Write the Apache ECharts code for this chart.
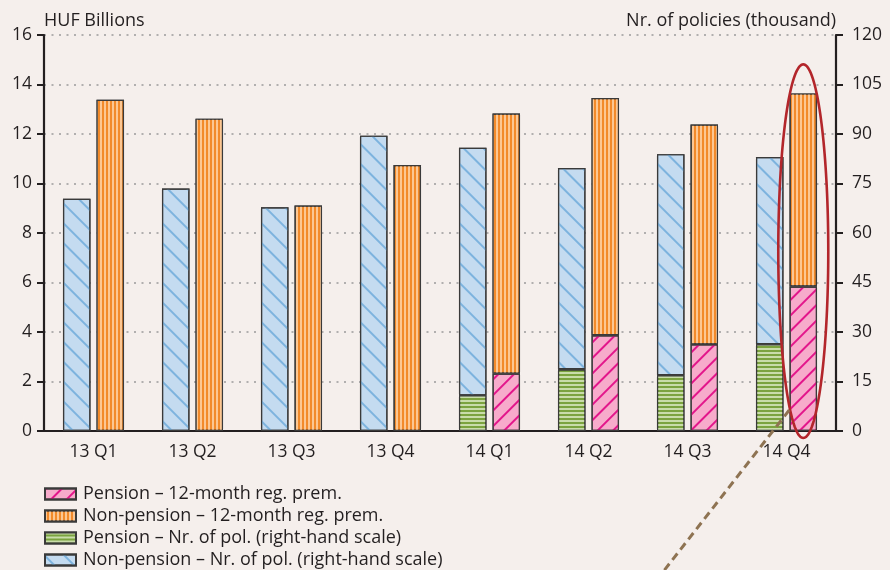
<!DOCTYPE html>
<html><head><meta charset="utf-8">
<script src="https://cdn.jsdelivr.net/npm/echarts@6/dist/echarts.min.js"></script>
<style>html,body{margin:0;padding:0;background:#F5EFEC}#c{width:890px;height:570px}</style>
</head><body><div id="c"></div>
<script>
const categories = ['13 Q1','13 Q2','13 Q3','13 Q4','14 Q1','14 Q2','14 Q3','14 Q4'];
const pensionPremium = [null, null, null, null, 2.32, 3.87, 3.50, 5.84];
const nonPensionPremium = [13.38, 12.62, 9.11, 10.75, 10.51, 9.58, 8.88, 7.80];
const pensionPolicies = [null, null, null, null, 10.8, 18.7, 16.9, 26.3];
const nonPensionPolicies = [70.4, 73.5, 67.8, 89.5, 75.0, 61.0, 67.0, 56.7];
const leftTicks = {min: 0, max: 16, interval: 2};
const rightTicks = {min: 0, max: 120, interval: 15};
const names = {
  pPrem: 'Pension – 12-month reg. prem.',
  nPrem: 'Non-pension – 12-month reg. prem.',
  pPol: 'Pension – Nr. of pol. (right-hand scale)',
  nPol: 'Non-pension – Nr. of pol. (right-hand scale)'
};

const FONT = 'Open Sans';
const TXT = '#231F20';
const border = {borderColor: '#3a3a3a', borderWidth: 1.2};
const chart = echarts.init(document.getElementById('c'), null, {renderer: 'canvas'});

const axisCommon = {
  axisLine: {show: true, lineStyle: {color: TXT, width: 2.2}},
  axisTick: {show: true, length: 7, lineStyle: {color: TXT, width: 2}},
  axisLabel: {color: TXT, fontFamily: FONT, fontSize: 17.5},
  nameTextStyle: {color: TXT, fontFamily: FONT, fontSize: 18}
};

const option = {
  backgroundColor: '#F5EFEC',
  animation: false,
  textStyle: {fontFamily: FONT},
  grid: {left: 44, right: 54, top: 35, bottom: 139, containLabel: false},
  legend: {
    orient: 'vertical', left: 44, top: 485, height: 90, padding: 0,
    itemWidth: 31, itemHeight: 11, itemGap: 4,
    icon: 'rect',
    data: [names.pPrem, names.nPrem, names.pPol, names.nPol],
    textStyle: {color: TXT, fontFamily: FONT, fontSize: 18, lineHeight: 17, padding: [0, 0, 0, 2]}
  },
  xAxis: {
    type: 'category', data: categories,
    axisLine: {lineStyle: {color: TXT, width: 2.2}},
    axisTick: {length: 7, lineStyle: {color: TXT, width: 2}},
    axisLabel: {color: TXT, fontFamily: FONT, fontSize: 17.5, margin: 12}
  },
  yAxis: [
    Object.assign({}, axisCommon, {
      type: 'value', position: 'left', ...leftTicks,
      name: 'HUF Billions', nameLocation: 'end', nameGap: 5,
      nameTextStyle: Object.assign({}, axisCommon.nameTextStyle, {align: 'left'}),
      axisLabel: Object.assign({}, axisCommon.axisLabel, {margin: 12}),
      splitLine: {show: true, lineStyle: {color: '#9a9a9a', width: 1.6, type: [2, 5.5]}}
    }),
    Object.assign({}, axisCommon, {
      type: 'value', position: 'right', ...rightTicks,
      name: 'Nr. of policies (thousand)', nameLocation: 'end', nameGap: 5,
      nameTextStyle: Object.assign({}, axisCommon.nameTextStyle, {align: 'right'}),
      axisLabel: Object.assign({}, axisCommon.axisLabel, {margin: 16}),
      splitLine: {show: false}
    })
  ],
  series: [
    {
      name: names.pPol, type: 'bar', stack: 'pol', yAxisIndex: 1, data: pensionPolicies,
      barWidth: 27.5, barGap: '22%',
      itemStyle: Object.assign({color: '#7BA33F', decal: {symbol: 'rect', color: '#C9DCAA', dashArrayX: [10, 0], dashArrayY: [2, 2], symbolSize: 1}}, border)
    },
    {
      name: names.nPol, type: 'bar', stack: 'pol', yAxisIndex: 1, data: nonPensionPolicies,
      barWidth: 27.5, barGap: '22%',
      itemStyle: Object.assign({color: '#C4DBF0', decal: {symbol: 'rect', color: '#7DB3DE', dashArrayX: [10, 0], dashArrayY: [2, 12], symbolSize: 1, rotation: Math.PI / 4}}, border)
    },
    {
      name: names.pPrem, type: 'bar', stack: 'prem', yAxisIndex: 0, data: pensionPremium,
      barWidth: 27.5, barGap: '22%',
      itemStyle: Object.assign({color: '#F7ABCB', decal: {symbol: 'rect', color: '#E3168B', dashArrayX: [10, 0], dashArrayY: [2, 9], symbolSize: 1, rotation: -Math.PI / 4}}, border)
    },
    {
      name: names.nPrem, type: 'bar', stack: 'prem', yAxisIndex: 0, data: nonPensionPremium,
      barWidth: 27.5, barGap: '22%',
      itemStyle: Object.assign({color: '#F28A2A', decal: {symbol: 'rect', color: '#FCC793', dashArrayX: [2, 2], dashArrayY: [10, 0], symbolSize: 1}}, border)
    }
  ]
};
chart.setOption(option);

// Annotation: ellipse around the last premium bar and a dashed pointer line
(function () {
  const last = categories.length - 1;
  const premData = chart.getModel().getSeriesByIndex(3).getData();
  const lay = premData.getItemLayout(last);
  const cx = lay.x + lay.width / 2;
  const zeroY = chart.convertToPixel({yAxisIndex: 0}, 0);
  const topY = Math.min(lay.y, lay.y + lay.height) - 29;
  const botY = zeroY + 7;
  const cy = (topY + botY) / 2, ry = (botY - topY) / 2, rx = 25;
  const pts = [];
  for (let i = 0; i <= 160; i++) {
    const a = i / 160 * Math.PI * 2;
    pts.push([cx + rx * Math.cos(a), cy + ry * Math.sin(a)]);
  }
  const sx = cx - 14, sy = zeroY - 21;
  chart.setOption({
    graphic: [
      {type: 'polyline', z: 100, shape: {points: pts}, style: {stroke: '#B3262B', lineWidth: 2.6, fill: null}},
      {type: 'line', z: 100, shape: {x1: sx, y1: sy, x2: sx - 0.78 * 200, y2: sy + 200},
        style: {stroke: '#8E7352', lineWidth: 3, lineDash: [8, 5]}}
    ]
  });
})();
</script></body></html>
